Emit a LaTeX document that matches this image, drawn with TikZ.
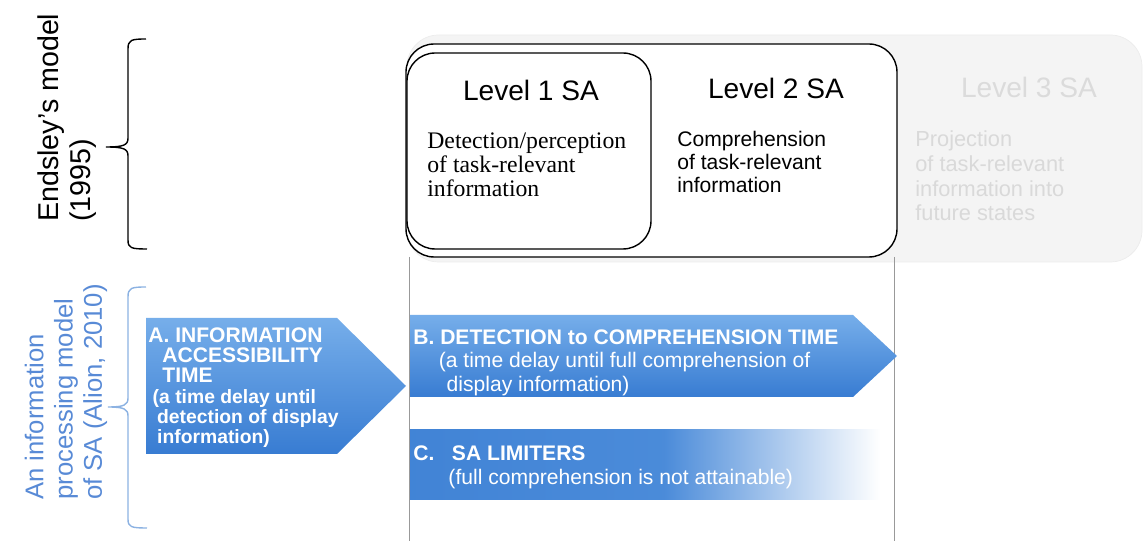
\documentclass[tikz,border=0pt]{standalone}
\usepackage{fontspec}
\setmainfont{Liberation Sans}
\newfontfamily\descserif{Liberation Serif}
\usetikzlibrary{positioning}
\definecolor{satop}{RGB}{118,174,234}
\definecolor{sabot}{RGB}{56,124,210}
\definecolor{alionblue}{RGB}{88,138,214}
\definecolor{braceblue}{RGB}{140,178,226}
\pgfdeclarehorizontalshading{limfade}{100bp}{color(0bp)=(sabot!85!satop); color(25bp)=(sabot!85!satop); color(52bp)=(sabot!70!satop); color(75bp)=(white); color(100bp)=(white)}

\begin{document}
\begin{tikzpicture}[x=0.02cm, y=-0.02cm,
    title/.style={font=\fontsize{16}{18}\selectfont},
    desc/.style={anchor=north west, inner sep=0, align=left, font=\fontsize{12}{13}\selectfont},
    bartext/.style={anchor=north west, inner sep=0, align=left, text=white},
    side/.style={rotate=90, anchor=west, inner sep=0, align=left}]
    \useasboundingbox (0,0) rectangle (1144,546);

    % levels of Endsley's model
    \draw[gray!15, fill=gray!9, rounded corners=18pt] (407,35) rectangle (1142,262);
    \draw[line width=0.8pt, fill=white, rounded corners=16pt] (406,44) rectangle (897,257);
    \draw[line width=0.8pt, rounded corners=16pt] (407,53) rectangle (651,249);
    \draw[gray!80, line width=0.5pt] (409,257) -- (409,541) (894,257) -- (894,541);

    \node[title] (l1) at (531,90) {Level 1 SA};
    \node[title] (l2) at (776,88) {Level 2 SA};
    \node[title, text=gray!28] (l3) at (1029,87) {Level 3 SA};
    \node[desc, font=\descserif\fontsize{13.5}{13.8}\selectfont] (d1) at (427,132) {Detection/perception\\of task-relevant\\information};
    \node[desc] (d2) at (677,131) {Comprehension\\of task-relevant\\information};
    \node[desc, text=gray!30, font=\fontsize{12.4}{14.2}\selectfont] (d3) at (915,130) {Projection\\of task-relevant\\information into\\future states};

    % side labels and braces
    \node[side, font=\fontsize{16.3}{18}\selectfont] (endsley) at (67,222) {Endsley’s model\\(1995)};
    \node[side, text=alionblue, font=\fontsize{14.6}{16.6}\selectfont] (alion) at (66,500) {An information\\processing model\\of SA (Alion, 2010)};
    \draw[line width=0.8pt] (146,39) .. controls (131,39) and (128,40) .. (128,49) -- (128,138)
        .. controls (128,145) and (124,147) .. (106,147) .. controls (124,147) and (128,149) .. (128,156)
        -- (128,240) .. controls (128,248) and (131,249) .. (147,249);
    \draw[braceblue, line width=0.8pt] (146,287) .. controls (131,287) and (128,288) .. (128,297) -- (128,398)
        .. controls (128,405) and (124,407) .. (108,407) .. controls (124,407) and (128,409) .. (128,416)
        -- (128,519) .. controls (128,527) and (131,528) .. (147,528);

    % information processing bars
    \shade[top color=satop, bottom color=sabot] (146,318) -- (337,318) -- (406,386) -- (337,454) -- (146,454) -- cycle;
    \shade[top color=satop, bottom color=sabot] (410,315) -- (853,315) -- (897,356) -- (853,397) -- (410,397) -- cycle;
    \shade[shading=limfade] (410,430) rectangle (880,500);

    \node[bartext, font=\bfseries\fontsize{12}{11.6}\selectfont] (infoA) at (148,327)
        {A. INFORMATION\\\hspace*{8pt}ACCESSIBILITY\\\hspace*{8pt}TIME};
    \node[bartext, font=\bfseries\fontsize{11}{11.3}\selectfont, below=3.4pt of infoA.south west, anchor=north west] (infoAsub)
        {\hspace*{2.5pt}(a time delay until\\\hspace*{5pt}detection of display\\\hspace*{5pt}information)};
    \node[bartext, font=\fontsize{12}{13.5}\selectfont] (detB) at (413,329)
        {\bfseries B. DETECTION to COMPREHENSION TIME\\\hspace*{14.5pt}(a time delay until full comprehension of\\\hspace*{19pt}display information)};
    \node[bartext, font=\fontsize{12}{14}\selectfont] (limC) at (413,445)
        {\bfseries C.\hspace{10pt}SA LIMITERS\\\hspace*{20pt}(full comprehension is not attainable)};
\end{tikzpicture}
\end{document}
